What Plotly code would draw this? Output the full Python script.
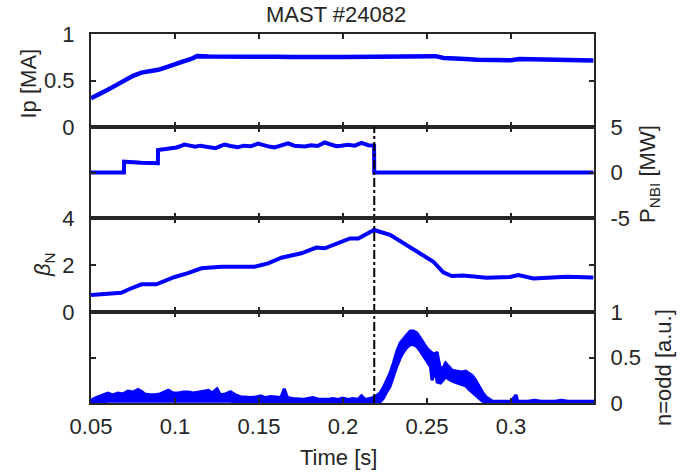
import plotly.graph_objects as go

# ---------------- data ----------------
ip_t = [0.050, 0.055, 0.060, 0.065, 0.070, 0.075, 0.080, 0.085, 0.090, 0.095,
        0.100, 0.105, 0.110, 0.113, 0.120, 0.130, 0.140, 0.150, 0.160, 0.170,
        0.180, 0.190, 0.200, 0.210, 0.220, 0.230, 0.240, 0.250, 0.255, 0.260,
        0.265, 0.270, 0.280, 0.290, 0.300, 0.305, 0.310, 0.320, 0.330, 0.340, 0.349]
ip_MA = [0.31, 0.35, 0.40, 0.45, 0.505, 0.55, 0.585, 0.600, 0.615, 0.645,
         0.680, 0.705, 0.735, 0.762, 0.758, 0.760, 0.757, 0.758, 0.755, 0.752,
         0.748, 0.752, 0.754, 0.756, 0.760, 0.762, 0.760, 0.760, 0.762, 0.742,
         0.733, 0.733, 0.722, 0.716, 0.718, 0.730, 0.728, 0.722, 0.720, 0.717, 0.715]

pnbi_t = [0.050, 0.0696, 0.0697, 0.075, 0.080, 0.085, 0.0898, 0.0899, 0.094, 0.098,
          0.101, 0.104, 0.1056, 0.109, 0.112, 0.115, 0.118, 0.121, 0.124, 0.127,
          0.1295, 0.133, 0.1375, 0.141, 0.145, 0.1494, 0.153, 0.156, 0.1593, 0.163,
          0.1673, 0.171, 0.1772, 0.181, 0.185, 0.189, 0.193, 0.196, 0.199, 0.203,
          0.207, 0.211, 0.215, 0.2185, 0.2186, 0.349]
pnbi_MW = [0.0, 0.0, 1.19, 1.10, 1.08, 1.05, 1.02, 2.47, 2.58, 2.65,
           2.75, 2.95, 3.08, 2.95, 2.84, 2.95, 2.86, 2.80, 2.66, 2.90,
           3.08, 2.92, 2.78, 2.95, 2.88, 3.18, 2.95, 2.85, 2.75, 2.98,
           3.20, 2.95, 2.85, 3.00, 2.92, 3.30, 3.02, 2.90, 2.95, 3.05,
           2.95, 3.25, 3.00, 2.95, 0.0, 0.0]

beta_t = [0.050, 0.060, 0.068, 0.073, 0.080, 0.0889, 0.0945, 0.0998, 0.1077, 0.1157,
          0.1276, 0.1474, 0.1554, 0.1633, 0.1752, 0.1841, 0.1891, 0.1982, 0.2042, 0.2091,
          0.2185, 0.228, 0.2379, 0.2488, 0.2538, 0.2597, 0.2647, 0.2716, 0.2855, 0.2994,
          0.3044, 0.3133, 0.3213, 0.3332, 0.349]
beta_N = [0.72, 0.78, 0.82, 0.98, 1.18, 1.18, 1.35, 1.49, 1.65, 1.86,
          1.93, 1.93, 2.07, 2.31, 2.50, 2.74, 2.71, 2.98, 3.13, 3.13,
          3.49, 3.28, 2.85, 2.40, 2.14, 1.69, 1.53, 1.55, 1.46, 1.49,
          1.57, 1.43, 1.47, 1.50, 1.47]

odd_t = [0.050, 0.053, 0.056, 0.060, 0.063, 0.066, 0.069, 0.072, 0.075, 0.078,
         0.080, 0.082, 0.085, 0.088, 0.091, 0.094, 0.096, 0.099, 0.102, 0.105,
         0.108, 0.111, 0.114, 0.117, 0.120, 0.122, 0.125, 0.127, 0.130, 0.133,
         0.136, 0.139, 0.142, 0.145, 0.148, 0.151, 0.154, 0.157, 0.160, 0.163,
         0.165, 0.167, 0.170, 0.173, 0.176, 0.179, 0.182, 0.185, 0.188, 0.191,
         0.194, 0.197, 0.200, 0.203, 0.206, 0.209, 0.211, 0.213, 0.216, 0.218,
         0.220, 0.222, 0.224, 0.226, 0.228, 0.230, 0.232, 0.234, 0.236, 0.238,
         0.240, 0.242, 0.244, 0.246, 0.248, 0.250, 0.252, 0.253, 0.255, 0.256,
         0.258, 0.260, 0.261, 0.263, 0.265, 0.268, 0.271, 0.273, 0.275, 0.277,
         0.279, 0.281, 0.283, 0.285, 0.287, 0.289, 0.292, 0.296, 0.300, 0.303,
         0.304, 0.306, 0.310, 0.314, 0.318, 0.322, 0.326, 0.330, 0.334, 0.338,
         0.342, 0.346, 0.349]
odd_hi = [0.03, 0.06, 0.08, 0.11, 0.09, 0.11, 0.10, 0.13, 0.12, 0.15,
          0.13, 0.10, 0.09, 0.09, 0.10, 0.12, 0.14, 0.11, 0.11, 0.12,
          0.12, 0.11, 0.12, 0.13, 0.14, 0.11, 0.155, 0.09, 0.10, 0.125,
          0.09, 0.07, 0.065, 0.06, 0.065, 0.08, 0.06, 0.07, 0.065, 0.06,
          0.155, 0.06, 0.05, 0.045, 0.04, 0.05, 0.06, 0.045, 0.04, 0.04,
          0.05, 0.04, 0.055, 0.04, 0.05, 0.04, 0.08, 0.04, 0.05, 0.06,
          0.08, 0.11, 0.17, 0.25, 0.33, 0.44, 0.57, 0.66, 0.71, 0.75,
          0.79, 0.79, 0.77, 0.72, 0.66, 0.60, 0.56, 0.55, 0.54, 0.56,
          0.37, 0.40, 0.44, 0.40, 0.36, 0.35, 0.34, 0.35, 0.32, 0.30,
          0.25, 0.18, 0.12, 0.07, 0.04, 0.02, 0.02, 0.02, 0.02, 0.09,
          0.02, 0.02, 0.02, 0.03, 0.02, 0.02, 0.02, 0.03, 0.02, 0.02,
          0.02, 0.02, 0.02]
odd_lo = [0.00, 0.01, 0.01, 0.02, 0.02, 0.02, 0.02, 0.02, 0.02, 0.02,
          0.02, 0.02, 0.02, 0.02, 0.02, 0.02, 0.02, 0.02, 0.02, 0.02,
          0.02, 0.02, 0.02, 0.02, 0.02, 0.02, 0.02, 0.02, 0.02, 0.02,
          0.01, 0.01, 0.01, 0.01, 0.01, 0.01, 0.01, 0.01, 0.01, 0.01,
          0.01, 0.01, 0.00, 0.00, 0.00, 0.00, 0.00, 0.00, 0.00, 0.00,
          0.00, 0.00, 0.00, 0.00, 0.00, 0.00, 0.00, 0.00, 0.00, 0.00,
          0.00, 0.01, 0.05, 0.12, 0.18, 0.28, 0.40, 0.49, 0.56, 0.61,
          0.64, 0.64, 0.62, 0.57, 0.51, 0.46, 0.40, 0.25, 0.36, 0.23,
          0.22, 0.26, 0.29, 0.26, 0.24, 0.22, 0.20, 0.19, 0.15, 0.12,
          0.08, 0.05, 0.02, 0.01, 0.00, 0.00, 0.00, 0.00, 0.00, 0.00,
          0.00, 0.00, 0.00, 0.00, 0.00, 0.00, 0.00, 0.00, 0.00, 0.00,
          0.00, 0.00, 0.00]

nbi_off_time = 0.2186
x_range = [0.05, 0.3494]
x_ticks = [0.05, 0.1, 0.15, 0.2, 0.25, 0.3]
x_ticklabels = ["0.05", "0.1", "0.15", "0.2", "0.25", "0.3"]

# ---------------- figure ----------------
W, H = 692, 476
L, R, T, B = 91, 98, 34, 73
ph = H - T - B
pw = W - L - R


def py(ypix):
    return (H - B - ypix) / ph


def px(xpix):
    return (xpix - L) / pw


BLUE = "#0000FF"
AX = "#262626"
FONT = "Liberation Sans, Arial, Helvetica, sans-serif"
FS = 22

fig = go.Figure()
fig.add_trace(go.Scatter(x=ip_t, y=ip_MA, mode="lines", line=dict(color=BLUE, width=4.5),
                         xaxis="x", yaxis="y", showlegend=False))
fig.add_trace(go.Scatter(x=pnbi_t, y=pnbi_MW, mode="lines", line=dict(color=BLUE, width=4),
                         xaxis="x2", yaxis="y2", showlegend=False))
fig.add_trace(go.Scatter(x=beta_t, y=beta_N, mode="lines", line=dict(color=BLUE, width=4),
                         xaxis="x3", yaxis="y3", showlegend=False))
fig.add_trace(go.Scatter(x=odd_t + odd_t[::-1], y=odd_hi + odd_lo[::-1], mode="lines",
                         fill="toself", fillcolor=BLUE, line=dict(color=BLUE, width=3),
                         xaxis="x4", yaxis="y4", showlegend=False))

d4 = [0, py(312)]
d3 = [py(312), py(218)]
d2 = [py(218), py(127)]
d1 = [py(127), 1]

xcommon = dict(range=x_range, tickvals=x_ticks, ticktext=x_ticklabels, ticks="inside",
               ticklen=5, tickwidth=2, tickcolor=AX, showline=True, linewidth=2,
               linecolor=AX, mirror="ticks", showgrid=False, zeroline=False,
               domain=[0, 1])
ycommon = dict(ticks="inside", ticklen=5, tickwidth=2, tickcolor=AX, showline=True,
               linewidth=2, linecolor=AX, mirror="ticks", showgrid=False,
               zeroline=False, ticklabelstandoff=10)

fig.update_layout(
    width=W, height=H,
    margin=dict(l=L, r=R, t=T, b=B),
    paper_bgcolor="white", plot_bgcolor="white",
    font=dict(family=FONT, size=FS, color=AX),
    xaxis=dict(**xcommon, anchor="y", showticklabels=False),
    xaxis2=dict(**xcommon, anchor="y2", showticklabels=False, matches="x"),
    xaxis3=dict(**xcommon, anchor="y3", showticklabels=False, matches="x"),
    xaxis4=dict(**xcommon, anchor="y4", showticklabels=True, matches="x",
                ticklabelstandoff=3),
    yaxis=dict(**ycommon, domain=d1, range=[0, 1], tickvals=[0, 0.5, 1],
               ticktext=["0", "0.5", "1"], side="left", anchor="x"),
    yaxis2=dict(**ycommon, domain=d2, range=[-5, 5], tickvals=[-5, 0, 5],
                ticktext=["-5", "0", "5"], side="right", anchor="x2"),
    yaxis3=dict(**ycommon, domain=d3, range=[0, 4], tickvals=[0, 2, 4],
                ticktext=["0", "2", "4"], side="left", anchor="x3"),
    yaxis4=dict(**ycommon, domain=d4, range=[0, 1], tickvals=[0, 0.5, 1],
                ticktext=["0", "0.5", "1"], side="right", anchor="x4"),
)

shapes = [
    dict(type="line", xref="x4", yref="paper", x0=nbi_off_time, x1=nbi_off_time,
         y0=0, y1=d2[1], line=dict(color="black", width=2, dash="dashdot")),
    dict(type="line", xref="paper", yref="paper", x0=0, x1=1, y0=d3[1], y1=d3[1],
         line=dict(color=AX, width=4)),
    dict(type="line", xref="paper", yref="paper", x0=0, x1=1, y0=d4[1], y1=d4[1],
         line=dict(color=AX, width=4)),
]
fig.update_layout(shapes=shapes)

ann = [
    dict(text="MAST #24082", x=px(336), y=py(14.3)),
    dict(text="Time [s]", x=px(338), y=py(457.5)),
    dict(text="Ip [MA]", x=px(28.5), y=py(84), textangle=-90),
    dict(text="<i>β</i><sub>N</sub>", x=px(44), y=py(265), textangle=-90),
    dict(text="P<sub>NBI</sub> [MW]", x=px(649), y=py(174), textangle=-90),
    dict(text="n=odd [a.u.]", x=px(663), y=py(368), textangle=-90),
]
for a in ann:
    fig.add_annotation(xref="paper", yref="paper", showarrow=False,
                       xanchor="center", yanchor="middle",
                       font=dict(family=FONT, size=FS, color=AX), **a)

fig.write_html("out.html", config={"displayModeBar": False},
               post_script="document.body.style.margin='0';document.body.style.padding='0';")
